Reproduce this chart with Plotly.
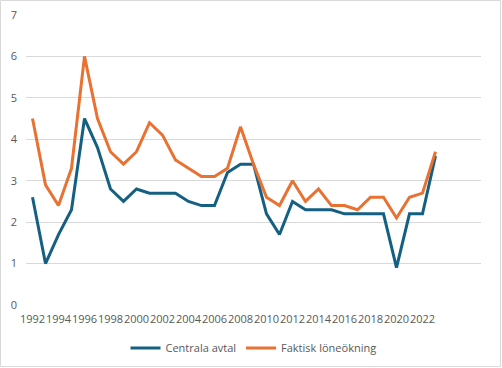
import plotly.graph_objects as go

years = list(range(1992, 2024))
centrala_avtal = [2.6, 1.0, 1.7, 2.3, 4.5, 3.8, 2.8, 2.5, 2.8, 2.7, 2.7, 2.7, 2.5, 2.4, 2.4, 3.2,
                  3.4, 3.4, 2.2, 1.7, 2.5, 2.3, 2.3, 2.3, 2.2, 2.2, 2.2, 2.2, 0.9, 2.2, 2.2, 3.6]
faktisk_loneokning = [4.5, 2.9, 2.4, 3.3, 6.0, 4.5, 3.7, 3.4, 3.7, 4.4, 4.1, 3.5, 3.3, 3.1, 3.1, 3.3,
                      4.3, 3.4, 2.6, 2.4, 3.0, 2.5, 2.8, 2.4, 2.4, 2.3, 2.6, 2.6, 2.1, 2.6, 2.7, 3.7]
x_ticks = list(range(1992, 2023, 2))
y_ticks = [0, 1, 2, 3, 4, 5, 6, 7]

W, H = 502, 368
ml, mr, mt, mb = 26, 21, 15, 63
pw, ph = W - ml - mr, H - mt - mb

fig = go.Figure()
fig.add_trace(go.Scatter(x=years, y=centrala_avtal, mode="lines", name="Centrala avtal",
                         line=dict(color="#156082", width=3)))
fig.add_trace(go.Scatter(x=years, y=faktisk_loneokning, mode="lines", name="Faktisk löneökning",
                         line=dict(color="#E97132", width=3)))

font = dict(family="Open Sans, Liberation Sans, sans-serif", size=11, color="#595959")

fig.update_layout(
    width=W, height=H,
    margin=dict(l=ml, r=mr, t=mt, b=mb, autoexpand=False),
    paper_bgcolor="white", plot_bgcolor="white",
    font=font,
    showlegend=True,
    legend=dict(orientation="h", x=0.5, xanchor="center", y=-(348 - (mt + ph)) / ph,
                yanchor="middle", font=dict(size=11, color="#595959"),
                bgcolor="rgba(0,0,0,0)", itemwidth=30),
    hovermode=False,
    xaxis=dict(range=[1991.5, 2026.5], tickmode="array", tickvals=x_ticks,
               ticktext=[str(v) for v in x_ticks], showgrid=False, zeroline=False,
               showline=False, ticks="", tickfont=dict(size=11, color="#595959"), tickangle=0,
               automargin=False, ticklabelstandoff=6),
    yaxis=dict(range=[0, 7], tickmode="array", tickvals=y_ticks, showgrid=True,
               gridcolor="#d9d9d9", gridwidth=1, zeroline=False, showline=False,
               ticks="", tickfont=dict(size=11, color="#595959"), automargin=False,
               ticklabelstandoff=8),
    shapes=[dict(type="rect", xref="paper", yref="paper",
                 x0=(0.5 - ml) / pw, x1=(W - 1.5 - ml) / pw,
                 y0=-(H - 1.5 - mt - ph) / ph, y1=1 + (mt - 0.5) / ph,
                 line=dict(color="#d9d9d9", width=1), layer="above")],
)

fig.write_html("out.html", config={"displayModeBar": False},
               post_script="document.body.style.margin='0';")
